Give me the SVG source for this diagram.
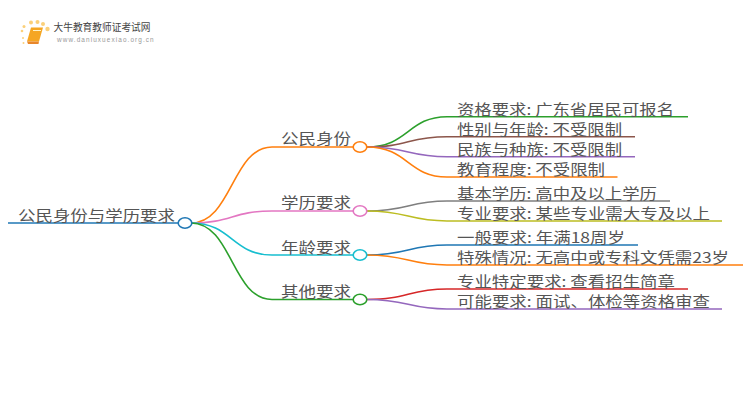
<svg xmlns="http://www.w3.org/2000/svg" width="750" height="410" viewBox="0 0 750 410">
<style>
.t{font-family:"Noto Sans CJK SC","Liberation Sans",sans-serif;font-size:14.500px;fill:#555}
.c{fill:none;stroke-width:1.6}
.n{fill:#fff;stroke-width:1.6}
</style>
<rect width="750" height="410" fill="#fff"/>
<g id="logo">
<g fill="#fbd07a"><circle cx="24" cy="26.500" r="1.500"/><circle cx="31" cy="22.500" r="2"/><circle cx="37.500" cy="22" r="2"/><circle cx="43" cy="24" r="2"/><circle cx="47.500" cy="29" r="2.200"/><circle cx="22" cy="31" r="1.300"/><circle cx="23" cy="38" r="1"/><circle cx="23.500" cy="43" r="1"/></g>
<path d="M31 27.500H43L39 41.500H27Z" fill="#f5a623"/><path d="M27 41.500H39L38.500 44H28Z" fill="#e8862a"/>
<path d="M33 30.500H41" stroke="#fff3c8" stroke-width="1"/>
<text x="53.500" y="31" textLength="97" lengthAdjust="spacingAndGlyphs" style="font-family:'Noto Sans CJK SC',sans-serif;font-size:10px;fill:#444">大牛教育教师证考试网</text>
<text x="57" y="42" style="font-family:'Liberation Sans',sans-serif;font-size:6.400px;fill:#999;letter-spacing:1.100px">www.daniuxuexiao.org.cn</text>
</g>
<g id="connectors">
<path class="c" stroke="#1f77b4" d="M8 223H185"/>
<path class="c" stroke="#ff7f0e" d="M191 223C232 223 232 147 272 147H360"/>
<path class="c" stroke="#e377c2" d="M191 223C232 223 232 211 272 211H360"/>
<path class="c" stroke="#17becf" d="M191 223C232 223 232 255 272 255H360"/>
<path class="c" stroke="#2ca02c" d="M191 223C232 223 232 299.500 272 299.500H360"/>
<path class="c" stroke="#2ca02c" d="M367 147C408 147 408 116.700 447 116.700H688"/>
<path class="c" stroke="#8c564b" d="M367 147C408 147 408 136.700 447 136.700H635"/>
<path class="c" stroke="#9467bd" d="M367 147C408 147 408 156.700 447 156.700H635"/>
<path class="c" stroke="#ff7f0e" d="M367 147C408 147 408 177 447 177H617.500"/>
<path class="c" stroke="#7f7f7f" d="M367 211C408 211 408 201 447 201H670"/>
<path class="c" stroke="#bcbd22" d="M367 211C408 211 408 221 447 221H722"/>
<path class="c" stroke="#1f77b4" d="M367 255C408 255 408 245 447 245H638"/>
<path class="c" stroke="#ff7f0e" d="M367 255C408 255 408 265 447 265H743"/>
<path class="c" stroke="#d62728" d="M367 299.500C408 299.500 408 289 447 289H688"/>
<path class="c" stroke="#9467bd" d="M367 299.500C408 299.500 408 309 447 309H722"/>
</g>
<g id="root"><text class="t" x="18" y="221" textLength="157" lengthAdjust="spacingAndGlyphs">公民身份与学历要求</text><ellipse class="n" stroke="#1f77b4" cx="185" cy="223" rx="6.800" ry="5.200"/></g>
<g id="n1"><text class="t" x="281" y="144" textLength="70" lengthAdjust="spacingAndGlyphs">公民身份</text><ellipse class="n" stroke="#ff7f0e" cx="360" cy="147" rx="6.800" ry="5.200"/></g>
<g id="n2"><text class="t" x="281" y="208" textLength="70" lengthAdjust="spacingAndGlyphs">学历要求</text><ellipse class="n" stroke="#e377c2" cx="360" cy="211" rx="6.800" ry="5.200"/></g>
<g id="n3"><text class="t" x="281" y="253" textLength="70" lengthAdjust="spacingAndGlyphs">年龄要求</text><ellipse class="n" stroke="#17becf" cx="360" cy="255" rx="6.800" ry="5.200"/></g>
<g id="n4"><text class="t" x="281" y="297" textLength="70" lengthAdjust="spacingAndGlyphs">其他要求</text><ellipse class="n" stroke="#2ca02c" cx="360" cy="299.500" rx="6.800" ry="5.200"/></g>
<g id="l1"><text class="t" x="457" y="114.500" textLength="217" lengthAdjust="spacingAndGlyphs">资格要求: 广东省居民可报名</text></g>
<g id="l2"><text class="t" x="457" y="134.500" textLength="165" lengthAdjust="spacingAndGlyphs">性别与年龄: 不受限制</text></g>
<g id="l3"><text class="t" x="457" y="154.500" textLength="165" lengthAdjust="spacingAndGlyphs">民族与种族: 不受限制</text></g>
<g id="l4"><text class="t" x="457" y="174.500" textLength="148" lengthAdjust="spacingAndGlyphs">教育程度: 不受限制</text></g>
<g id="l5"><text class="t" x="457" y="198.500" textLength="200" lengthAdjust="spacingAndGlyphs">基本学历: 高中及以上学历</text></g>
<g id="l6"><text class="t" x="457" y="219" textLength="253" lengthAdjust="spacingAndGlyphs">专业要求: 某些专业需大专及以上</text></g>
<g id="l7"><text class="t" x="457" y="243" textLength="168" lengthAdjust="spacingAndGlyphs">一般要求: 年满18周岁</text></g>
<g id="l8"><text class="t" x="457" y="263" textLength="272" lengthAdjust="spacingAndGlyphs">特殊情况: 无高中或专科文凭需23岁</text></g>
<g id="l9"><text class="t" x="457" y="287" textLength="218" lengthAdjust="spacingAndGlyphs">专业特定要求: 查看招生简章</text></g>
<g id="l10"><text class="t" x="457" y="307" textLength="253" lengthAdjust="spacingAndGlyphs">可能要求: 面试、体检等资格审查</text></g>
</svg>
